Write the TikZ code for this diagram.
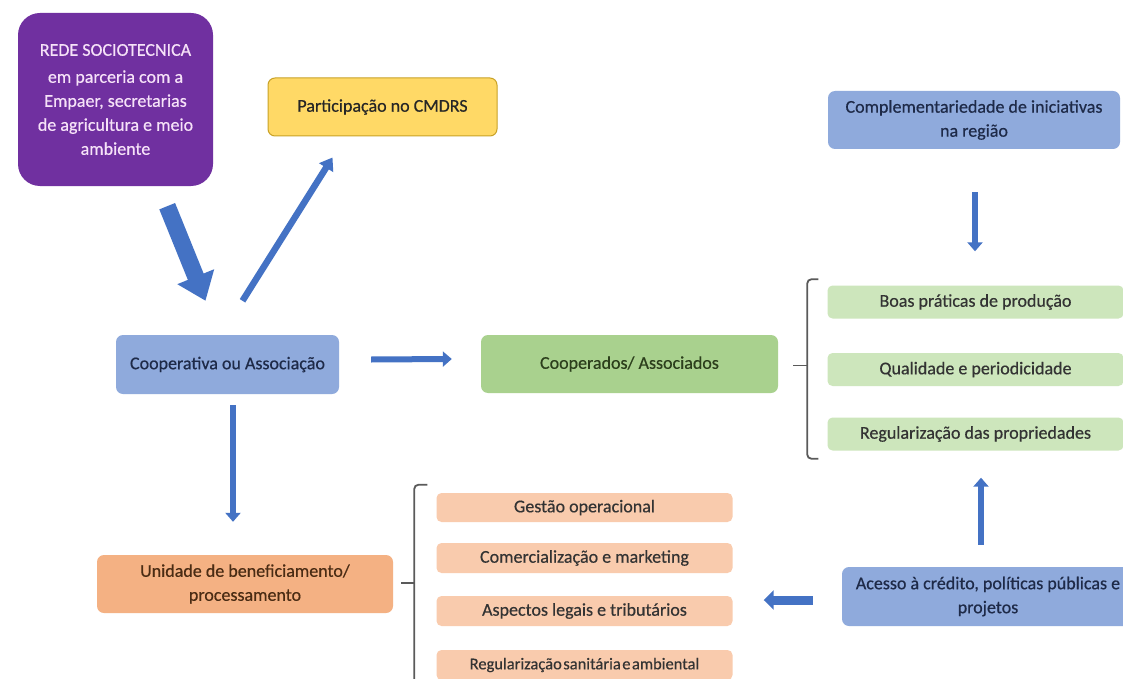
\documentclass[tikz,border=0pt]{standalone}
\usepackage{fontspec}
\setmainfont{Carlito}[FakeBold=0.5]
\usetikzlibrary{arrows.meta,calc}

\definecolor{arrowblue}{HTML}{4472C4}
\definecolor{redepurple}{HTML}{7030A0}
\definecolor{redetext}{HTML}{F6E2F8}
\definecolor{cmdrsfill}{HTML}{FFD966}
\definecolor{cmdrsline}{HTML}{C9A227}
\definecolor{bluefill}{HTML}{8FAADC}
\definecolor{bluetext}{HTML}{1E2A48}
\definecolor{greenfill}{HTML}{A9D18E}
\definecolor{greentext}{HTML}{2C3F1C}
\definecolor{lightgreen}{HTML}{CDE6BC}
\definecolor{orangefill}{HTML}{F4B183}
\definecolor{orangetext}{HTML}{4A2C14}
\definecolor{lightorange}{HTML}{F9CBAD}
\definecolor{bracegray}{HTML}{5A5A5A}

\begin{document}
\begin{tikzpicture}[x=1pt,y=-1pt,
  box/.style={rounded corners=7pt, inner sep=0pt, align=center,
    font=\fontsize{18}{24}\selectfont},
  itembox/.style={rounded corners=5pt, inner sep=0pt, align=center,
    font=\fontsize{18}{22}\selectfont, minimum width=296, minimum height=31},
  arr/.style={draw=arrowblue, line width=6pt, -{Triangle[length=9pt,width=15pt]}},
  bracket/.style={draw=bracegray, line width=1.8pt, rounded corners=4pt}
]
\useasboundingbox[fill=white] (0,0) rectangle (1123,679);

% main blocks
\node[box, rounded corners=22pt, fill=redepurple, text=redetext,
  minimum width=195, minimum height=173] (rede) at (115.5,99.5)
  {REDE SOCIOTECNICA\\[3pt] em parceria com a\\ Empaer, secretarias\\ de agricultura e meio\\ ambiente};
\node[box, fill=cmdrsfill, draw=cmdrsline, line width=1pt, text=black!85,
  minimum width=229, minimum height=58] (cmdrs) at (382.5,107) {Participação no CMDRS};
\node[box, fill=bluefill, text=bluetext,
  minimum width=223, minimum height=59] (coop) at (227.5,364.5) {Cooperativa ou Associação};
\node[box, fill=greenfill, text=greentext,
  minimum width=297, minimum height=58] (coopd) at (629.5,364) {Cooperados/ Associados};
\node[box, fill=bluefill, text=bluetext,
  minimum width=292, minimum height=58] (compl) at (974,120) {Complementariedade de iniciativas\\ na região};
\node[box, fill=bluefill, text=bluetext,
  minimum width=292, minimum height=59] (acesso) at (988,596.5) {Acesso à crédito, políticas públicas e\\ projetos};
\node[box, fill=orangefill, text=orangetext,
  minimum width=296, minimum height=58] (unid) at (245,584) {Unidade de beneficiamento/\\ processamento};

% items of the members
\node[itembox, fill=lightgreen, text=black!80, minimum height=33] (g1) at (975.5,302) {Boas práticas de produção};
\node[itembox, fill=lightgreen, text=black!80, minimum height=33] (g2) at (975.5,369.5) {Qualidade e periodicidade};
\node[itembox, fill=lightgreen, text=black!80, minimum height=33] (g3) at (975.5,434) {Regularização das propriedades};

% items of the processing unit
\node[itembox, fill=lightorange, text=black!80, minimum height=29] (o1) at (584.5,507.5) {Gestão operacional};
\node[itembox, fill=lightorange, text=black!80, minimum height=30] (o2) at (584.5,558) {Comercialização e marketing};
\node[itembox, fill=lightorange, text=black!80, minimum height=30] (o3) at (584.5,611) {Aspectos legais e tributários};
\node[itembox, fill=lightorange, text=black!80, minimum height=30] (o4) at (584.5,665)
  {\fontsize{16.5}{18}\selectfont\spaceskip=1.5pt Regularização sanitária e ambiental};

% connectors
\draw[draw=arrowblue, line width=17pt, -{Triangle[length=26pt,width=38pt]}]
  ($(rede.south east)+(-46,20)$) -- ($(coop.north)+(-22,-34)$);
\draw[arrowblue, line width=6.5pt, -{Triangle[length=12pt,width=16pt]}]
  ($(coop.north)+(15,-34)$) -- ($(cmdrs.south west)+(65,21)$);
\draw[arr] ($(coop.east)+(32,-5)$) -- ($(coopd.west)+(-29,-5)$);
\draw[arr] ($(coop.south)+(5.5,11)$) -- ($(unid.north)+(-12,-33)$);
\draw[arr] ($(compl.south)+(1,43)$) -- ($(g1.north)+(-0.5,-34)$);
\draw[arr] ($(acesso.north)+(-7,-22)$) -- ($(g3.south)+(5.5,27)$);
\draw[draw=arrowblue, line width=9pt, -{Triangle[length=10pt,width=19pt]}]
  ($(acesso.west)+(-29,3.5)$) -- ($(o3.east)+(31,-11)$);

% brackets
\draw[bracket] ($(g1.north west)+(-9,-6)$) -| ($(g3.south west)+(-20,8)$) -- ++(11,0);
\draw[bracket, rounded corners=0pt] ($(coopd.east)+(15,1.5)$) -- ($(coopd.east)+(30,1.5)$);
\draw[bracket] ($(o1.north west)+(-9,-8)$) -| ($(o4.south west)+(-22,15)$);
\draw[bracket, rounded corners=0pt] ($(unid.east)+(8,-1)$) -- ($(unid.east)+(22,-1)$);
\end{tikzpicture}
\end{document}
